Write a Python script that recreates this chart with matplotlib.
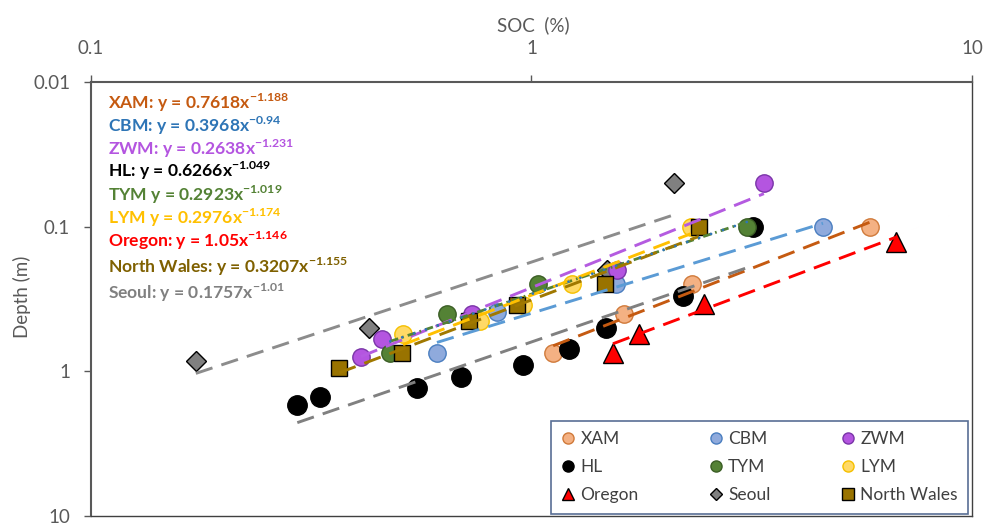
import numpy as np
import matplotlib
matplotlib.use("Agg")
import matplotlib.pyplot as plt
from matplotlib.lines import Line2D
from matplotlib.ticker import FixedLocator, FixedFormatter, NullLocator

plt.rcParams['font.family'] = ['Lato', 'DejaVu Sans']
plt.rcParams['mathtext.fontset'] = 'custom'
plt.rcParams['mathtext.rm'] = 'Lato'
plt.rcParams['mathtext.bf'] = 'Lato:bold'

# ---- data (SOC %, depth m) ----
series_names = ["XAM", "CBM", "ZWM", "HL", "TYM", "LYM", "Oregon", "Seoul", "North Wales"]

xam_soc = [1.12, 1.62, 2.31, 5.86]
xam_depth = [0.75, 0.40, 0.25, 0.10]

cbm_soc = [0.61, 0.835, 1.555, 4.59]
cbm_depth = [0.75, 0.39, 0.25, 0.10]

zwm_soc = [0.41, 0.458, 0.733, 1.563, 3.37]
zwm_depth = [0.80, 0.60, 0.40, 0.20, 0.05]

hl_soc = [0.294, 0.331, 0.55, 0.692, 0.957, 1.216, 1.476, 2.21, 3.18]
hl_depth = [1.7, 1.5, 1.3, 1.1, 0.9, 0.7, 0.5, 0.3, 0.1]

tym_soc = [0.478, 0.643, 1.035, 3.08]
tym_depth = [0.75, 0.40, 0.25, 0.10]

lym_soc = [0.511, 0.763, 0.957, 1.236, 2.30]
lym_depth = [0.55, 0.45, 0.35, 0.25, 0.10]

oregon_soc = [1.531, 1.754, 2.464, 6.72]
oregon_depth = [0.75, 0.55, 0.34, 0.128]

seoul_soc = [0.173, 0.428, 1.484, 2.106]
seoul_depth = [0.85, 0.50, 0.20, 0.05]

nw_soc = [0.366, 0.508, 0.722, 0.927, 1.468, 2.40]
nw_depth = [0.95, 0.75, 0.45, 0.35, 0.25, 0.10]

# power-law trendline coefficients shown on the chart (y = a * x^b)
coef_a = [0.7618, 0.3968, 0.2638, 0.6266, 0.2923, 0.2976, 1.05, 0.1757, 0.3207]
coef_b = [-1.188, -0.94, -1.231, -1.049, -1.019, -1.174, -1.146, -1.01, -1.155]
eq_labels = ["XAM: y = 0.7618x", "CBM: y = 0.3968x", "ZWM: y = 0.2638x", "HL: y = 0.6266x",
             "TYM y = 0.2923x", "LYM y = 0.2976x", "Oregon: y = 1.05x",
             "North Wales: y = 0.3207x", "Seoul: y = 0.1757x"]
eq_exps = ["-1.188", "-0.94", "-1.231", "-1.049", "-1.019", "-1.174", "-1.146", "-1.155", "-1.01"]

x_ticks = [0.1, 1, 10]
x_tick_labels = ["0.1", "1", "10"]
y_ticks = [0.01, 0.1, 1, 10]
y_tick_labels = ["0.01", "0.1", "1", "10"]

soc = [xam_soc, cbm_soc, zwm_soc, hl_soc, tym_soc, lym_soc, oregon_soc, seoul_soc, nw_soc]
depth = [xam_depth, cbm_depth, zwm_depth, hl_depth, tym_depth, lym_depth, oregon_depth, seoul_depth, nw_depth]

# ---- styles ----
markers = ['o', 'o', 'o', 'o', 'o', 'o', '^', 'D', 's']
msizes = [12.5, 12.5, 12.5, 14, 12.5, 12.5, 14, 10, 11.5]
faces = ['#F4B183', '#8FAADC', '#B455E0', '#000000', '#548235', '#FFD966', '#FF0000', '#808080', '#997300']
edges = ['#D07A3A', '#4A7EC0', '#7A35A8', '#000000', '#3B5E25', '#F5C000', '#000000', '#000000', '#000000']
line_colors = ['#C55A11', '#5B9BD5', '#B45BE0', '#808080', '#548235', '#FFC000', '#FF0000', '#8C8C8C', '#A07800']
eq_colors = ['#C55A11', '#2E75B6', '#B455E0', '#000000', '#548235', '#FFC000', '#FF0000', '#7F6000', '#808080']

fig = plt.figure(figsize=(9.87, 5.25), dpi=100)
ax = fig.add_axes([91/987, 1-516/525, 881/987, 434/525])
ax.set_xscale('log')
ax.set_yscale('log')
ax.set_xlim(0.1, 10)
ax.set_ylim(10, 0.01)

# markers
draw_order = [7, 0, 1, 3, 2, 4, 5, 6, 8]
for z, i in enumerate(draw_order):
    ax.plot(soc[i], depth[i], linestyle='none', marker=markers[i], ms=msizes[i],
            mfc=faces[i], mec=edges[i], mew=1.0, zorder=3 + z * 0.1)

# trendlines
for i in range(len(series_names)):
    xs = np.geomspace(min(soc[i]), max(soc[i]), 60)
    ys = coef_a[i] * xs ** coef_b[i]
    if series_names[i] == "TYM":
        ax.plot(xs, ys, color='#548235', lw=2, dashes=(3, 1.5, 0.6, 1.5), zorder=5)
        ax.plot(xs, ys, color='#2E75B6', lw=2, dashes=(0.01, 4.5), dash_capstyle='round',
                zorder=5.1)
    else:
        ax.plot(xs, ys, color=line_colors[i], lw=2.1, dashes=(6, 3.2), zorder=5)

# axes styling
ax.xaxis.set_ticks_position('top')
ax.xaxis.set_major_locator(FixedLocator(x_ticks))
ax.xaxis.set_major_formatter(FixedFormatter(x_tick_labels))
ax.xaxis.set_minor_locator(NullLocator())
ax.yaxis.set_major_locator(FixedLocator(y_ticks))
ax.yaxis.set_major_formatter(FixedFormatter(y_tick_labels))
ax.yaxis.set_minor_locator(NullLocator())
ax.tick_params(axis='x', which='major', direction='out', length=5, width=1, color='#595959',
               labelsize=13.5, labelcolor='#595959', pad=13, top=True, bottom=False,
               labeltop=True, labelbottom=False)
ax.tick_params(axis='y', which='major', direction='out', length=5, width=1, color='#595959',
               labelsize=13.5, labelcolor='#595959', pad=10)
for s in ['top', 'left']:
    ax.spines[s].set_color('#595959')
    ax.spines[s].set_linewidth(1.5)
for s in ['right', 'bottom']:
    ax.spines[s].set_color('#404040')
    ax.spines[s].set_linewidth(1.0)

# axis titles
fig.text(533/987, 1-25/525, "SOC  (%)", ha='center', va='center', fontsize=13.5, color='#595959')
fig.text(22/987, 1-297/525, "Depth (m)", ha='center', va='center', rotation=90,
         fontsize=13.5, color='#595959')

# equations
eq_base = [109, 132, 155, 177, 201, 224, 247, 273, 299]
for k in range(len(eq_labels)):
    fig.text(108/987, 1-eq_base[k]/525, eq_labels[k] + r"$^{\mathbf{" + eq_exps[k] + "}}$",
             ha='left', va='baseline', fontsize=12.6, fontweight='bold', color=eq_colors[k])

# legend (row-wise order -> column-wise for matplotlib)
handles = []
for i in range(len(series_names)):
    handles.append(Line2D([], [], linestyle='none', marker=markers[i],
                          ms=8 if markers[i] != 'D' else 6.5, mfc=faces[i], mec=edges[i], mew=1.0,
                          label=series_names[i]))
order = [0, 3, 6, 1, 4, 7, 2, 5, 8]
leg = ax.legend([handles[i] for i in order], [series_names[i] for i in order],
                ncol=3, loc='lower left', bbox_to_anchor=(0.522, 0.005, 0.4735, 0.214),
                mode='expand', borderaxespad=0, fontsize=12.5, frameon=True, fancybox=False,
                handlelength=0.8, handletextpad=0.3, labelspacing=0.7, borderpad=0.6,
                columnspacing=1.0)
leg.get_frame().set_edgecolor('#2F4A7A')
leg.get_frame().set_linewidth(1.2)
for t in leg.get_texts():
    t.set_color('#404040')

fig.savefig("out.png", dpi=100)
